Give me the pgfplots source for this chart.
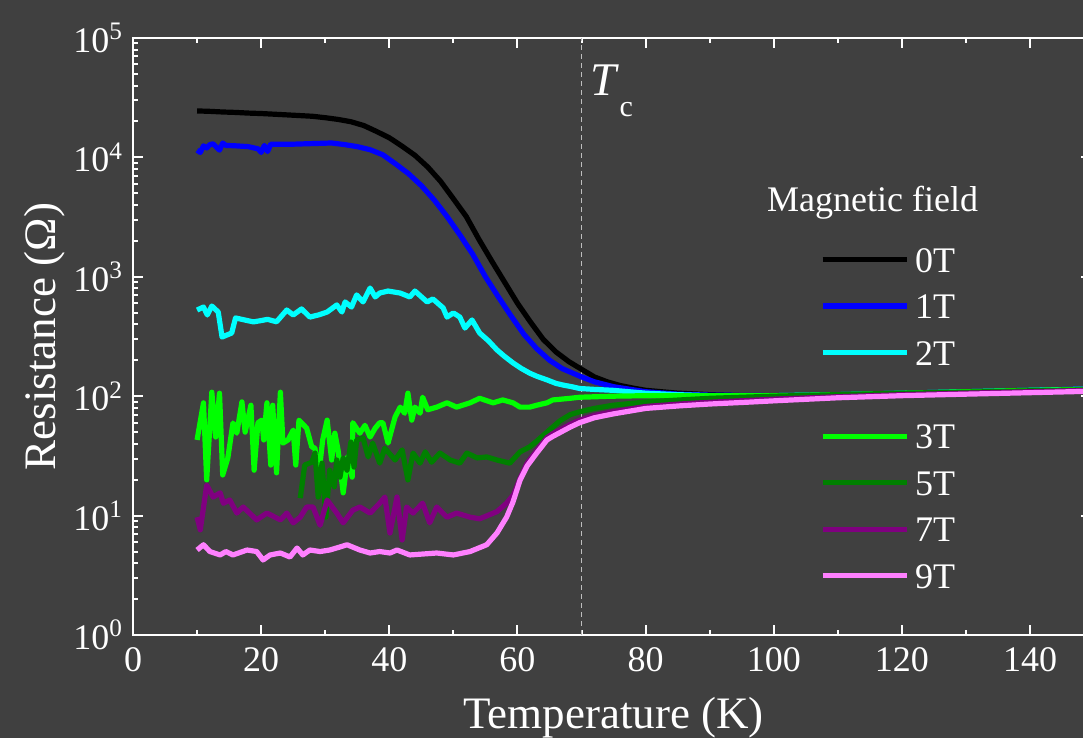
\documentclass[border=0pt]{standalone}
\usepackage{fontspec}
\setmainfont{Liberation Serif}
\usepackage{pgfplots}
\pgfplotsset{compat=1.18}
\definecolor{bgc}{RGB}{64,64,64}
\definecolor{cA}{RGB}{0,0,0}
\definecolor{cB}{RGB}{0,0,255}
\definecolor{cC}{RGB}{0,255,255}
\definecolor{cD}{RGB}{0,255,0}
\definecolor{cE}{RGB}{0,128,0}
\definecolor{cF}{RGB}{128,0,128}
\definecolor{cG}{RGB}{255,128,255}
\definecolor{dashc}{RGB}{190,190,190}
\pgfplotsset{
  mylegend/.style={
    legend style={anchor=north west, draw=none, fill=none,
      inner sep=0pt, outer sep=0pt, row sep=11.25pt, column sep=3pt,
      font=\fontsize{18}{20}\selectfont, text=white,
      nodes={inner sep=0pt, text height=12pt, text depth=0pt}},
    legend cell align=left,
    legend image code/.code={\draw[##1, line width=2.6pt] (0pt,0.3pt)--(42pt,0.3pt);},
  }
}
\begin{document}
\begin{tikzpicture}
\fill[bgc] (0,0) rectangle (541.5pt,369pt);
\useasboundingbox (0,0) rectangle (541.5pt,369pt);
\begin{axis}[
  at={(66.5pt,51.5pt)}, anchor=south west, scale only axis,
  width=479pt, height=298.5pt,
  xmin=0, xmax=149.5, ymode=log, log basis y=10, ymin=1, ymax=1e5,
  axis line style={white, line width=1pt},
  every tick/.style={white, line width=1pt},
  major tick length=5pt, minor tick length=2.5pt,
  tick align=inside,
  xtick={0,20,...,140}, minor xtick={10,30,...,150},
  ytick={1,10,100,1000,10000,100000},
  minor ytick={2,3,4,5,6,7,8,9,20,30,40,50,60,70,80,90,200,300,400,500,600,700,800,900,2000,3000,4000,5000,6000,7000,8000,9000,20000,30000,40000,50000,60000,70000,80000,90000},
  yticklabels={10\textsuperscript{0},10\textsuperscript{1},10\textsuperscript{2},10\textsuperscript{3},10\textsuperscript{4},10\textsuperscript{5}},
  /pgf/number format/assume math mode=true,
  tick label style={white, font=\fontsize{18}{20}\selectfont},
  xticklabel style={yshift=-2.5pt},
  yticklabel style={xshift=-1.5pt},
  xlabel={Temperature (K)}, ylabel={Resistance (Ω)},
  every axis x label/.style={at={(rel axis cs:0.5016,-0.1558)}, anchor=base, text=white, font=\fontsize{22.5}{25}\selectfont},
  every axis y label/.style={at={(rel axis cs:-0.0919,0.5)}, rotate=90, anchor=center, text=white, font=\fontsize{22.5}{25}\selectfont},
  mylegend,
  legend style={at={(0.7171,0.648)}},
  every axis plot/.append style={line width=2.6pt, line join=round},
]
\addplot[dashc, line width=0.6pt, dash pattern=on 2.5pt off 2pt, forget plot] coordinates {(70,1) (70,100000)};

\addplot[cA] coordinates {(10,24500) (12,24300) (14,24000) (16,23800) (18,23500) (20,23300) (22,23000) (24,22700) (26,22400) (28,22100) (30,21500) (32,20800) (34,19900) (36,18500) (38,16500) (40,14600) (42,12400) (44,10400) (46,8300) (48,6300) (50,4500) (52,3200) (54,2050) (56,1350) (58,900) (60,600) (62,420) (64,300) (66,235) (68,195) (70,168) (72,145) (74,132) (76,123) (78,117) (80,112) (85,106) (90,103) (95,101) (100,101) (110,103) (120,106) (130,109) (140,112) (149.5,115)};
\addlegendentry{0T}
\addplot[cB] coordinates {(10,11500) (10.5,11000) (11,12500) (11.5,12000) (12,12800) (12.5,13000) (13,12200) (13.5,11500) (14,13200) (14.5,12600) (16,12500) (18,12300) (19.5,11800) (20,11000) (20.5,12600) (21,11200) (21.5,12900) (23,12900) (25,12900) (27,13000) (29,13100) (31,13200) (33,12800) (35,12300) (37,11600) (39,10500) (41,8800) (43,7300) (45,5800) (47,4400) (49,3200) (51,2250) (53,1550) (55,1000) (57,680) (59,470) (61,330) (63,250) (65,200) (67,170) (70,145) (72,132) (75,120) (80,109) (85,104) (90,102) (100,101) (110,103) (120,106) (130,109) (140,112) (149.5,115)};
\addlegendentry{1T}
\addplot[cC] coordinates {(10,527) (11,558) (11.6,479) (12.3,569) (13.3,507) (13.9,313) (15.4,338) (16,452) (17,440) (18.8,419) (20,430) (21,440) (22.4,420) (24,527) (25,479) (26.3,538) (27.6,460) (29,480) (30.3,507) (31.8,581) (32.6,507) (33.1,616) (34.1,558) (34.9,705) (35.9,616) (37,805) (37.8,678) (38.5,731) (39.8,760) (41.7,731) (43.2,678) (44,760) (45.9,616) (46.8,652) (48.4,549) (49,460) (50,498) (51,460) (51.8,372) (52.9,435) (54.1,338) (55.5,290) (56.8,244) (58,215) (59.3,190) (60.5,172) (61.9,156) (63,147) (64.6,137) (66,128) (67.1,124) (68.5,120) (69.7,116) (72,114) (74.9,112) (80,106) (85,103) (90,101) (100,101) (110,103) (120,106) (130,109) (140,112) (149.5,115)};
\addlegendentry{2T}
\addplot[cD, forget plot] coordinates {(10,43) (11,88) (11.5,19.9) (12.3,108) (12.9,45.5) (13.5,106) (14,21.9) (14.8,30.4) (15.6,59.7) (16.2,49) (17,89.6) (17.5,50) (18.4,84) (18.9,24) (19.5,60) (20.1,63) (20.4,43) (20.9,88) (21.5,26.5) (21.8,84) (22.4,22.8) (23,108) (23.4,40.5) (24.2,43) (25,52) (25.4,26.5) (25.9,63) (27.1,54) (27.9,37.6) (28.4,36.7) (28.9,19.9) (29.6,43) (30.3,63) (31,29.2) (31.5,49) (32,35.5) (32.8,15.5) (33.5,31) (34.2,21) (34.3,60) (35.4,49) (36.2,57) (37,45.5) (37.8,54) (38.5,60) (39,60) (39.8,40.5) (40.9,67) (41.7,81) (42.4,72) (42.9,106) (43.5,63) (44,81) (44.8,72) (45.2,98) (46,77) (47.4,81) (49,88) (50.5,81) (52.6,88) (54.1,96) (56.2,88) (57.7,93) (59.3,88) (60.4,81) (61.9,81) (63,84) (64.6,88) (65.5,93) (68.2,96) (69.7,98) (74.9,100) (80,101) (90,101) (100,101) (110,103) (120,106) (130,109) (140,112) (149.5,114)};
\addplot[cE, forget plot] coordinates {(26.1,14) (26.8,26.5) (27.9,28) (28.4,33.4) (28.9,14.3) (29.5,27.5) (30.1,9.7) (30.7,24) (31.4,17.4) (31.8,29.2) (32.3,21) (32.8,30.4) (33.4,24) (34,41.3) (34.5,25.5) (34.9,43) (35.9,44.7) (36.7,31) (37.4,40.5) (38.5,27.5) (39.3,36.7) (40.9,29.2) (42,35.5) (42.9,19.9) (43.7,33.4) (44.8,27.5) (45.6,34.2) (46.6,28) (47.9,33.4) (49.5,29.2) (51,27.5) (52.1,33.4) (53.7,30.4) (55.2,31) (56.8,29.2) (58.8,27.5) (60.4,34.2) (61.9,37.6) (63,42) (64.6,50) (66.6,62) (68.2,70) (69.7,74) (72,79) (74.9,84) (80.2,89.6) (85.3,93) (90,96) (100,100) (110,103) (120,106) (130,108) (140,111) (149.5,113)};
\addplot[cF, forget plot] coordinates {(10,9.7) (10.5,7.6) (11.5,18) (12.5,14.3) (13.6,15.5) (14.1,12.7) (15.1,13.5) (16.2,10.5) (17.2,11.8) (19.3,9.2) (20.9,10.5) (23,9.2) (24,10.5) (25,8.7) (26.1,9.7) (27.1,11.8) (28.1,11.8) (29.2,8.3) (30.3,13.5) (31.8,10.5) (32.8,8.7) (34.3,11.1) (35.4,11.8) (37,10.5) (38.5,12.7) (39.3,14.3) (40.1,7.15) (41.2,14.3) (42,6.25) (42.7,11.8) (43.7,10.5) (45.2,12.7) (46.3,8.7) (47.4,11.8) (49,9.7) (50.5,10.5) (52.6,9.7) (54.1,9.4) (56.8,10.8) (58.3,12.7) (59.4,15) (60.4,20.5) (61.5,27.5) (63,35) (64.6,45) (65.5,48.5) (68.2,58) (69.7,63) (72,69) (74.9,74) (80,82) (85.3,86) (90,89) (95.8,92) (101,95) (110,99) (120,103) (130,106) (140,109) (149.5,112)};
\addplot[cG, forget plot] coordinates {(10,5.15) (11,5.7) (12,5.0) (13.6,4.68) (14.5,5.0) (15.6,4.68) (17.8,5.15) (19.3,5.0) (20.3,4.25) (21.4,4.68) (23,4.86) (24.5,4.5) (25.6,5.35) (26.5,4.68) (27.6,5.15) (29.2,5.0) (30.7,5.15) (32.3,5.46) (33.4,5.7) (35.4,5.15) (37,4.86) (38.5,5.0) (40.1,4.86) (41.2,5.15) (43.2,4.68) (47.4,4.86) (50,4.68) (52.6,5.0) (55.2,5.7) (56.8,7.15) (58.3,9.7) (59.3,13) (60.4,19.8) (61.5,26) (63,33.4) (64.6,43) (65.5,46) (68.2,55) (69.7,60) (72,66) (74.9,71) (80,79) (85.3,83) (90,86) (95.8,89) (101,92) (110,97) (120,101) (130,104) (140,107) (149.5,110)};

\node[anchor=base west, inner sep=0pt, text=white, font=\fontsize{23.4}{25}\selectfont] at (axis cs:71.4,33300) {\textit{T}\raisebox{-10.5pt}{\fontsize{15}{15}\selectfont c}};
\node[anchor=base west, inner sep=0pt, text=white, font=\fontsize{18}{20}\selectfont] at (axis cs:98.9,3490) {Magnetic field};
\end{axis}
\begin{axis}[
  at={(66.5pt,51.5pt)}, anchor=south west, scale only axis,
  width=479pt, height=298.5pt, hide axis,
  xmin=0, xmax=1, ymin=0, ymax=1,
  mylegend,
  legend style={at={(0.7171,0.3518)}},
]
\addlegendimage{cD}
\addlegendentry{3T}
\addlegendimage{cE}
\addlegendentry{5T}
\addlegendimage{cF}
\addlegendentry{7T}
\addlegendimage{cG}
\addlegendentry{9T}
\end{axis}
\end{tikzpicture}
\end{document}
